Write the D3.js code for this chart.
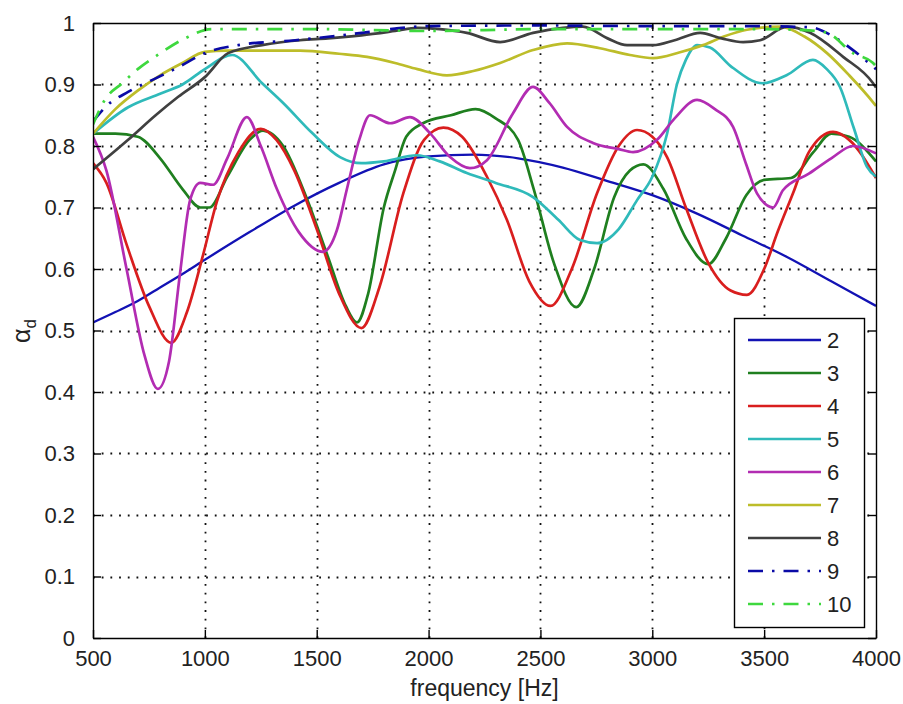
<!DOCTYPE html>
<html>
<head>
<meta charset="utf-8">
<script src="https://cdn.jsdelivr.net/npm/d3@7"></script>
<style>
  body { margin: 0; background: #fff; }
  text { font-family: "Liberation Sans", Arial, sans-serif; fill: #222; }
</style>
</head>
<body>
<svg id="chart" width="903" height="704"></svg>
<script>
// series values, [frequency, alpha_d]
var s2 = [[500,.513],[600,.53],[700,.548],[800,.57],[900,.592],[1000,.615],[1200,.66],[1400,.703],[1600,.74],[1800,.77],[2000,.783],[2200,.786],[2400,.78],[2600,.765],[2800,.743],[3000,.72],[3200,.69],[3400,.655],[3600,.62],[3800,.58],[4000,.54]]
var s3 = [[500,.82],[600,.82],[700,.815],[800,.78],[900,.73],[980,.70],[1020,.70],[1100,.75],[1200,.81],[1260,.825],[1350,.80],[1450,.72],[1550,.62],[1630,.54],[1680,.513],[1730,.56],[1800,.70],[1850,.76],[1900,.815],[1975,.837],[2100,.85],[2210,.86],[2300,.845],[2400,.81],[2470,.73],[2560,.61],[2660,.538],[2740,.6],[2830,.717],[2900,.76],[2960,.77],[3050,.73],[3150,.65],[3250,.608],[3330,.65],[3420,.72],[3500,.745],[3620,.748],[3720,.79],[3800,.82],[3880,.815],[4000,.775]]
var s4 = [[500,.772],[560,.74],[650,.64],[750,.54],[850,.48],[920,.53],[990,.62],[1054,.71],[1150,.79],[1250,.828],[1320,.81],[1400,.76],[1500,.665],[1600,.56],[1700,.504],[1780,.57],[1887,.723],[1980,.81],[2066,.83],[2150,.815],[2261,.75],[2350,.68],[2450,.58],[2545,.54],[2640,.6],[2753,.723],[2850,.8],[2932,.826],[3000,.815],[3066,.782],[3150,.7],[3250,.61],[3350,.565],[3423,.558],[3500,.6],[3560,.66],[3629,.723],[3700,.79],[3808,.823],[3880,.81],[4000,.748]]
var s5 = [[500,.82],[657,.863],[800,.885],[900,.9],[1000,.925],[1122,.948],[1256,.902],[1350,.87],[1480,.821],[1604,.782],[1700,.772],[1800,.775],[1948,.785],[2050,.775],[2171,.756],[2300,.74],[2467,.717],[2580,.68],[2677,.647],[2753,.642],[2850,.665],[2932,.712],[3000,.75],[3066,.82],[3110,.9],[3150,.94],[3200,.964],[3258,.96],[3350,.93],[3495,.902],[3600,.915],[3718,.94],[3780,.925],[3839,.896],[3900,.83],[3960,.766],[4000,.75]]
var s6 = [[500,.815],[560,.76],[650,.6],[730,.46],[790,.405],[840,.45],[889,.593],[934,.712],[979,.74],[1037,.737],[1100,.78],[1188,.847],[1250,.8],[1322,.73],[1420,.66],[1528,.628],[1590,.663],[1635,.73],[1690,.81],[1738,.85],[1828,.837],[1917,.847],[2006,.821],[2096,.782],[2185,.764],[2261,.777],[2377,.853],[2467,.896],[2540,.87],[2619,.831],[2735,.805],[2850,.795],[2914,.79],[3021,.81],[3100,.845],[3200,.875],[3280,.86],[3361,.831],[3420,.77],[3468,.723],[3540,.70],[3584,.728],[3700,.755],[3800,.78],[3897,.8],[4000,.788]]
var s7 = [[500,.82],[600,.86],[700,.89],[800,.915],[900,.935],[1000,.953],[1100,.955],[1250,.955],[1425,.955],[1600,.95],[1725,.945],[1850,.935],[1950,.925],[2082,.915],[2200,.922],[2320,.935],[2467,.956],[2619,.967],[2766,.959],[2900,.948],[3004,.943],[3120,.952],[3227,.964],[3320,.978],[3423,.989],[3571,.994],[3680,.978],[3781,.951],[3880,.915],[3987,.871],[4000,.865]]
var s8 = [[500,.762],[657,.81],[780,.85],[881,.88],[1000,.912],[1104,.951],[1256,.964],[1425,.972],[1550,.975],[1700,.98],[1850,.987],[1950,.992],[2050,.99],[2171,.984],[2320,.969],[2467,.984],[2600,.992],[2690,.994],[2800,.975],[2887,.964],[3004,.964],[3100,.972],[3214,.984],[3310,.975],[3406,.969],[3482,.972],[3602,.994],[3705,.984],[3853,.945],[3987,.902],[4000,.895]]
var s9 = [[500,.84],[560,.865],[657,.888],[780,.91],[881,.928],[1000,.951],[1149,.964],[1404,.972],[1702,.984],[1850,.991],[2000,.995],[2500,.996],[3000,.995],[3400,.995],[3705,.993],[3800,.98],[3897,.956],[4000,.925]]
var s10 = [[500,.835],[553,.875],[630,.902],[700,.925],[777,.945],[911,.975],[1032,.99],[1500,.99],[2000,.987],[2500,.99],[3000,.99],[3500,.99],[3700,.988],[3781,.984],[3897,.951],[3987,.935],[4000,.93]]

var names = ["2","3","4","5","6","7","8","9","10"]
var colors = ["#1212b4","#1f7f1f","#d91e1e","#2fbaba","#b22cb2","#bdbd2a","#404040","#0a0aa6","#3ed83e"]
var dashed = [false,false,false,false,false,false,false,true,true]
var xTicks = [500,1000,1500,2000,2500,3000,3500,4000]
var yTicks = [0,0.1,0.2,0.3,0.4,0.5,0.6,0.7,0.8,0.9,1]

var series = [s2,s3,s4,s5,s6,s7,s8,s9,s10]
var svg = d3.select("#chart")
var pL = 93, pR = 876, pT = 23, pB = 638

var x = d3.scaleLinear().domain([500,4000]).range([pL,pR])
var y = d3.scaleLinear().domain([0,1]).range([pB,pT])

svg.append("rect").attr("x",pL).attr("y",pT).attr("width",pR-pL).attr("height",pB-pT).attr("fill","#fff")

// dotted grid
var grid = svg.append("g").attr("stroke","#111").attr("stroke-width",1.8).attr("stroke-dasharray","1.8,6.9")
grid.selectAll(".gx").data(xTicks.slice(1,-1)).enter().append("line")
  .attr("x1",function(d){return Math.round(x(d))+0.5}).attr("x2",function(d){return Math.round(x(d))+0.5})
  .attr("y1",pB).attr("y2",pT)
grid.selectAll(".gy").data(yTicks.slice(1,-1)).enter().append("line")
  .attr("y1",function(d){return Math.round(y(d))+0.5}).attr("y2",function(d){return Math.round(y(d))+0.5})
  .attr("x1",pL).attr("x2",pR)

svg.append("clipPath").attr("id","clip").append("rect")
  .attr("x",pL).attr("y",pT-2).attr("width",pR-pL).attr("height",pB-pT+4)

var line = d3.line().x(function(d){return x(d[0])}).y(function(d){return y(d[1])}).curve(d3.curveMonotoneX)
var plot = svg.append("g").attr("clip-path","url(#clip)")
series.forEach(function(s,i){
  plot.append("path").attr("d",line(s)).attr("fill","none")
    .attr("stroke",colors[i]).attr("stroke-width", i==0 ? 2.3 : 2.7)
    .attr("stroke-linejoin","round")
    .attr("stroke-dasharray", dashed[i] ? "15,9,2.5,9" : null)
})

// axes: box with inward ticks on all sides
var tl = 8
var axB = d3.axisBottom(x).tickValues(xTicks).tickSizeInner(-tl).tickSizeOuter(0).tickPadding(tl+4).tickFormat(d3.format("d"))
var axT = d3.axisTop(x).tickValues(xTicks).tickSizeInner(-tl).tickSizeOuter(0).tickFormat("")
var axL = d3.axisLeft(y).tickValues(yTicks).tickSizeInner(-tl).tickSizeOuter(0).tickPadding(tl+10).tickFormat(function(d){return d==0||d==1 ? d : d3.format(".1f")(d)})
var axR = d3.axisRight(y).tickValues(yTicks).tickSizeInner(-tl).tickSizeOuter(0).tickFormat("")
svg.append("g").attr("transform","translate(0,"+pB+")").call(axB)
svg.append("g").attr("transform","translate(0,"+pT+")").call(axT)
svg.append("g").attr("transform","translate("+pL+",0)").call(axL)
svg.append("g").attr("transform","translate("+pR+",0)").call(axR)
svg.selectAll(".domain").attr("stroke","#000").attr("stroke-width",1.4)
svg.selectAll(".tick line").attr("stroke","#000").attr("stroke-width",1.4)
svg.selectAll(".tick text").attr("font-size",22).attr("font-family","Liberation Sans, Arial, sans-serif").attr("fill","#222")

// axis labels
svg.append("text").attr("x",(pL+pR)/2).attr("y",696).attr("text-anchor","middle")
  .attr("font-size",23).text("frequency [Hz]")
var yl = svg.append("text").attr("transform","translate(30,331) rotate(-90)").attr("text-anchor","middle").attr("font-size",25)
yl.append("tspan").text("α")
yl.append("tspan").attr("font-size",17).attr("dy",6).text("d")

// legend
var lg = svg.append("g")
lg.append("rect").attr("x",734.5).attr("y",318.5).attr("width",130).attr("height",309)
  .attr("fill","#fff").attr("stroke","#000").attr("stroke-width",1.4)
var ly = d3.scalePoint().domain(names).range([340,604])
names.forEach(function(n,i){
  lg.append("line").attr("x1",748).attr("x2",821).attr("y1",ly(n)).attr("y2",ly(n))
    .attr("stroke",colors[i]).attr("stroke-width",i==0 ? 2.3 : 2.7)
    .attr("stroke-dasharray", dashed[i] ? "15,9,2.5,9" : null)
  lg.append("text").attr("x",827).attr("y",ly(n)).attr("dy","0.36em").attr("font-size",22).text(n)
})
</script>
</body>
</html>
